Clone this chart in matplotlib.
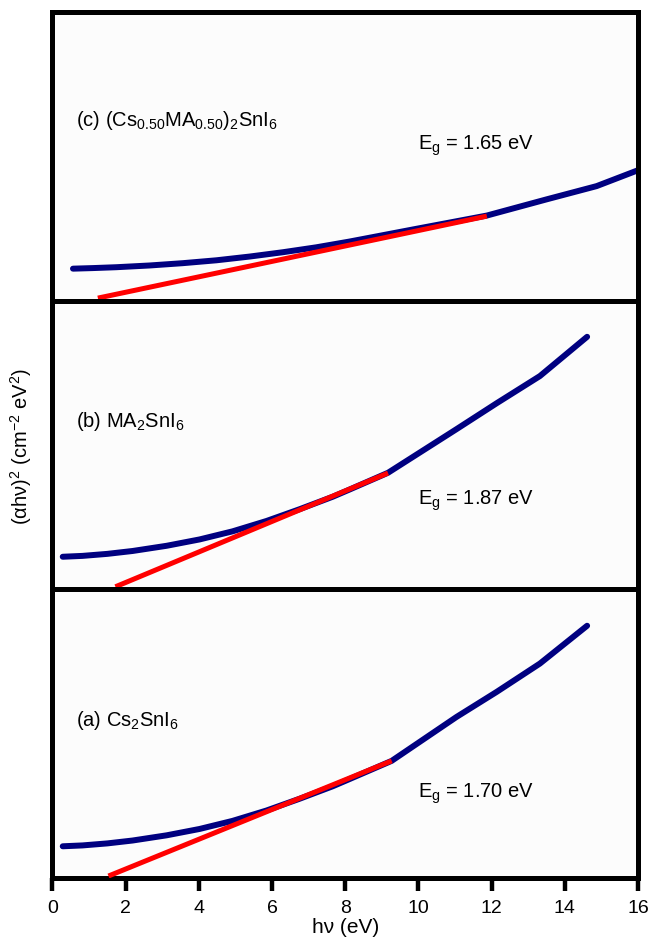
import matplotlib.pyplot as plt

plt.rcParams['font.family'] = ['Liberation Sans', 'DejaVu Sans']
plt.rcParams['mathtext.fontset'] = 'custom'
plt.rcParams['mathtext.rm'] = 'Liberation Sans'
plt.rcParams['mathtext.it'] = 'Liberation Sans:italic'

# ---- data (y in arbitrary units 0-100 per panel) ----
# (c) (Cs0.50MA0.50)2SnI6
x_c = [0.56, 1.10, 1.74, 2.65, 3.56, 4.48, 5.39, 6.30, 7.21, 8.12, 9.9, 11.87, 13.50, 14.87, 16.0]
y_c = [11.1, 11.3, 11.6, 12.2, 13.0, 14.0, 15.3, 16.8, 18.5, 20.5, 24.8, 29.5, 35.1, 39.7, 45.2]
fit_x_c = [1.24, 11.87]
fit_y_c = [0.9, 29.3]

# (b) MA2SnI6
x_b = [0.28, 0.82, 1.50, 2.19, 3.12, 4.02, 4.92, 5.85, 6.76, 7.66, 8.12, 9.17, 11.04, 12.14, 13.32, 14.61]
y_b = [11.3, 11.6, 12.3, 13.3, 15.1, 17.3, 20.1, 23.7, 27.8, 32.1, 34.6, 40.4, 55.5, 64.5, 73.9, 87.5]
fit_x_b = [1.72, 9.17]
fit_y_b = [0.9, 40.3]

# (a) Cs2SnI6
x_a = [0.28, 0.82, 1.50, 2.19, 3.12, 4.02, 4.92, 5.85, 6.76, 7.66, 8.12, 9.27, 11.04, 12.14, 13.32, 14.61]
y_a = [11.0, 11.3, 12.0, 13.0, 14.8, 17.0, 19.8, 23.4, 27.5, 31.8, 34.3, 40.6, 55.8, 64.5, 74.3, 87.4]
fit_x_a = [1.53, 9.27]
fit_y_a = [0.7, 40.6]

labels = ['(c) (Cs$_{0.50}$MA$_{0.50}$)$_2$SnI$_6$',
          '(b) MA$_2$SnI$_6$',
          '(a) Cs$_2$SnI$_6$']
gaps = ['E$_\\mathregular{g}$ = 1.65 eV',
        'E$_\\mathregular{g}$ = 1.87 eV',
        'E$_\\mathregular{g}$ = 1.70 eV']
label_y = [62.8, 58.6, 54.9]
gap_y = [54, 31, 29.5]

panels = [(x_c, y_c, fit_x_c, fit_y_c),
          (x_b, y_b, fit_x_b, fit_y_b),
          (x_a, y_a, fit_x_a, fit_y_a)]

fig, axes = plt.subplots(3, 1, figsize=(6.52, 9.45), dpi=100, sharex=True)
fig.subplots_adjust(left=0.0805, right=0.9785, bottom=0.0698, top=0.9862, hspace=0)

for i, ax in enumerate(axes):
    xs, ys, fx, fy = panels[i]
    ax.set_facecolor('#fcfcfc')
    ax.plot(xs, ys, color='#000080', lw=4.3, solid_capstyle='round',
            solid_joinstyle='round', zorder=2)
    ax.plot(fx, fy, color='#ff0000', lw=3.6, solid_capstyle='butt', zorder=3)
    ax.text(0.63, label_y[i], labels[i], fontsize=14.5, va='center', ha='left')
    ax.text(10.0, gap_y[i], gaps[i], fontsize=14.5, va='center', ha='left')
    ax.set_xlim(0, 16)
    ax.set_ylim(0, 100)
    ax.set_yticks([])
    for s in ax.spines.values():
        s.set_linewidth(3.6)
    ax.tick_params(axis='x', which='both', bottom=(i == 2), top=False,
                   direction='out', length=9, width=3.2, labelsize=14, pad=6)

axes[2].set_xticks(range(0, 17, 2))
axes[2].set_xlabel('h\u03bd (eV)', fontsize=15, labelpad=1)
fig.text(0.032, 0.527, '(\u03b1h\u03bd)$^2$ (cm$^{-2}$ eV$^2$)', rotation=90,
         fontsize=14.5, va='center', ha='center')

fig.savefig('out.png', dpi=100)
